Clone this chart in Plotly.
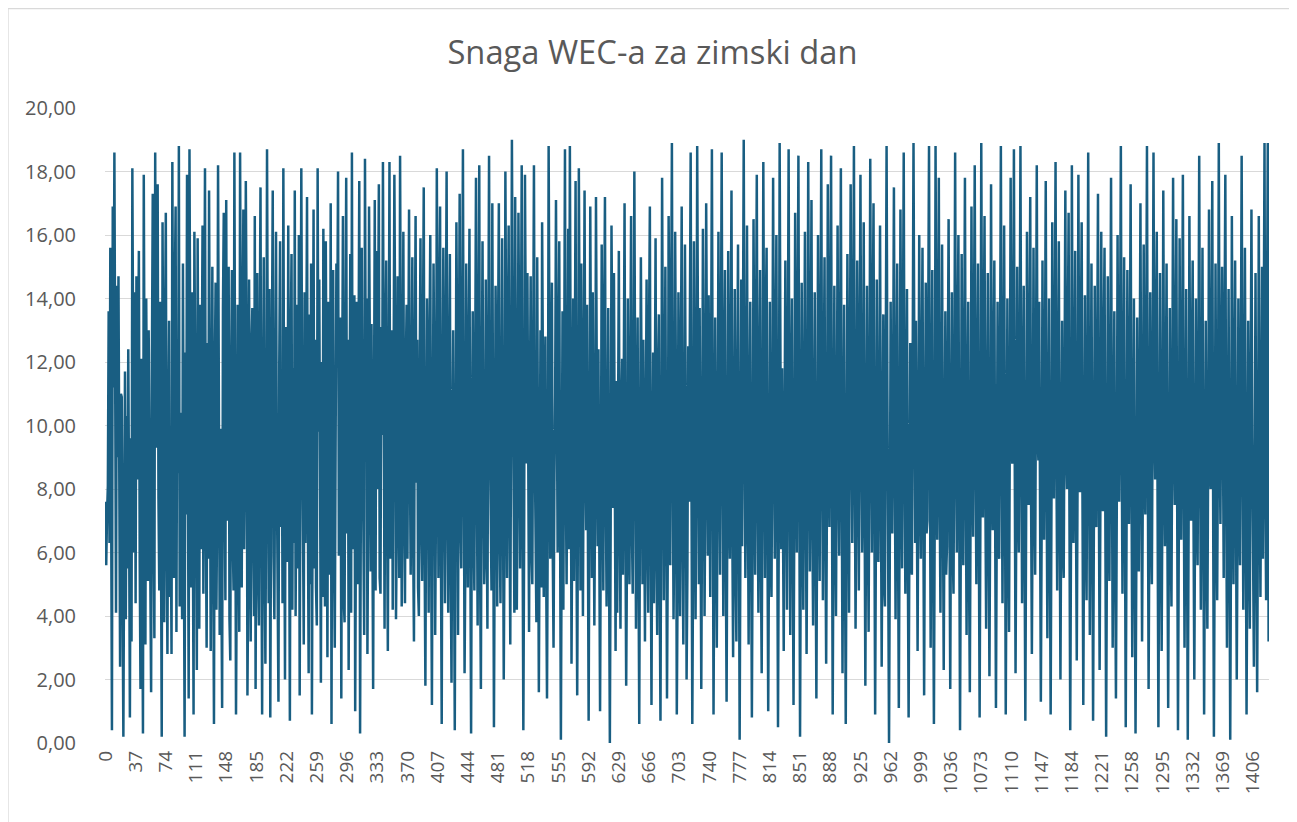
import plotly.graph_objects as go

title_text = "Snaga WEC-a za zimski dan"

# WEC power values, one row per 37 samples
power = [
    7.6, 5.6, 7.2, 8.1, 13.6, 6.3, 15.6, 4.9, 0.4, 16.9, 11.2, 18.6, 5.3, 4.1, 14.4, 9.0, 14.7, 3.6, 2.4, 11.0, 10.9, 4.8, 0.2, 6.7, 11.7, 3.9, 10.3, 5.5, 12.4, 7.4, 0.8, 9.6, 3.2, 18.1, 12.9, 6.0, 14.2,
    4.4, 14.7, 8.3, 11.8, 15.5, 5.9, 1.7, 12.1, 7.0, 0.3, 17.9, 6.2, 3.1, 14.0, 10.5, 5.1, 13.0, 8.7, 4.0, 1.6, 12.2, 17.3, 6.9, 3.3, 18.6, 9.3, 13.5, 17.6, 7.7, 4.8, 13.9, 5.4, 0.2, 16.4, 11.3, 3.8, 12.6,
    16.7, 6.4, 2.8, 9.8, 13.3, 4.6, 7.9, 2.8, 18.3, 11.0, 5.2, 14.1, 16.9, 3.5, 12.7, 8.5, 18.8, 4.3, 10.4, 6.7, 3.9, 15.1, 9.1, 0.2, 12.3, 7.2, 17.9, 5.6, 1.4, 18.7, 13.2, 4.9, 14.2, 8.0, 0.9, 16.1, 10.6,
    5.0, 2.3, 15.9, 8.4, 3.6, 13.8, 6.1, 11.3, 16.3, 4.7, 9.5, 18.1, 7.3, 3.0, 12.6, 5.8, 17.4, 10.0, 2.9, 8.9, 15.0, 6.4, 0.6, 11.6, 14.5, 4.2, 7.8, 18.2, 12.0, 3.4, 9.9, 5.7, 1.1, 13.7, 16.7, 8.2, 4.5,
    17.1, 7.0, 12.5, 15.0, 3.9, 2.6, 11.5, 14.9, 6.5, 4.8, 18.6, 9.4, 0.9, 5.7, 13.8, 8.0, 3.5, 18.6, 10.7, 4.9, 12.3, 16.8, 6.1, 9.0, 17.7, 13.0, 1.5, 5.3, 14.6, 7.8, 3.2, 12.4, 13.7, 6.6, 4.0, 16.6, 1.7,
    10.1, 14.8, 5.4, 3.7, 12.6, 17.5, 7.4, 0.9, 9.6, 15.3, 6.2, 2.5, 8.3, 18.7, 11.4, 4.4, 14.3, 0.8, 7.9, 12.9, 17.4, 5.9, 3.9, 10.5, 16.1, 8.6, 4.7, 1.3, 12.0, 15.8, 6.8, 11.1, 4.4, 18.1, 9.1, 2.0, 13.1,
    7.7, 5.7, 16.3, 8.9, 0.7, 12.4, 15.4, 4.2, 11.8, 6.3, 17.4, 4.0, 9.9, 13.8, 5.5, 16.0, 1.5, 8.1, 18.1, 10.9, 3.8, 3.1, 14.2, 6.3, 11.6, 17.2, 7.3, 2.2, 13.5, 5.0, 15.1, 0.9, 8.6, 16.8, 5.5, 12.7, 4.9,
    3.7, 18.1, 9.8, 14.6, 6.0, 1.9, 12.0, 4.6, 16.2, 8.4, 4.3, 15.8, 10.5, 2.7, 13.9, 7.1, 5.3, 17.0, 0.6, 11.9, 14.9, 6.2, 3.0, 9.4, 15.1, 12.6, 18.0, 5.9, 7.6, 13.4, 1.4, 10.8, 16.6, 4.5, 3.8, 12.1, 17.8,
    6.6, 12.7, 2.3, 8.7, 15.4, 4.1, 18.6, 6.1, 11.5, 14.1, 1.0, 7.3, 13.9, 5.0, 9.4, 17.7, 0.3, 6.9, 15.6, 10.3, 4.6, 3.4, 18.4, 11.1, 14.0, 2.8, 7.9, 16.9, 12.2, 5.4, 13.2, 6.0, 1.7, 10.1, 17.1, 4.8, 15.5,
    8.0, 11.4, 17.6, 5.2, 4.7, 13.1, 9.7, 18.3, 6.6, 3.6, 12.2, 15.2, 7.5, 2.9, 10.3, 18.3, 5.8, 8.6, 13.0, 4.2, 10.4, 17.9, 12.8, 3.9, 6.9, 14.7, 11.1, 5.2, 18.5, 12.3, 4.3, 9.6, 16.1, 7.7, 4.4, 11.8, 13.8,
    5.8, 12.8, 16.8, 9.0, 5.3, 10.5, 15.3, 6.4, 3.2, 11.8, 16.6, 8.2, 12.7, 4.9, 4.0, 11.4, 15.9, 7.0, 5.1, 12.8, 17.5, 6.3, 1.8, 8.9, 14.0, 10.7, 4.1, 12.2, 16.0, 6.4, 1.2, 9.3, 15.1, 11.0, 3.4, 7.7, 18.1,
    12.1, 5.2, 13.4, 16.9, 6.4, 0.6, 10.5, 15.6, 8.9, 4.4, 12.4, 18.0, 7.6, 4.1, 11.3, 15.4, 5.8, 1.9, 9.2, 13.0, 6.7, 0.4, 8.6, 16.4, 12.0, 3.4, 11.3, 17.3, 7.0, 5.5, 12.6, 18.7, 9.4, 2.2, 6.0, 15.1, 10.2,
    4.9, 11.5, 16.2, 6.7, 0.3, 8.9, 13.6, 7.1, 4.8, 11.8, 17.8, 8.9, 3.7, 12.2, 18.2, 5.6, 1.7, 10.5, 15.8, 9.0, 5.0, 6.1, 14.6, 7.7, 3.6, 11.7, 18.5, 10.0, 6.1, 4.8, 17.0, 8.5, 0.5, 7.2, 14.4, 11.2, 4.3,
    12.6, 17.0, 6.6, 4.4, 9.9, 15.9, 8.0, 2.0, 6.8, 18.0, 12.2, 5.2, 11.6, 16.3, 7.8, 3.1, 10.4, 19.0, 13.1, 6.3, 4.1, 17.2, 9.4, 4.2, 8.5, 16.7, 12.0, 5.5, 11.9, 18.2, 7.4, 0.4, 6.6, 17.9, 12.6, 8.8, 14.8,
    7.7, 3.5, 10.6, 14.7, 6.1, 5.0, 11.7, 18.2, 9.3, 5.9, 3.8, 15.3, 8.1, 1.6, 7.3, 13.0, 4.9, 16.4, 11.7, 4.6, 9.8, 12.8, 5.4, 1.4, 7.5, 18.8, 12.4, 5.8, 10.5, 14.5, 6.2, 3.0, 8.1, 11.0, 17.1, 9.6, 6.0,
    11.1, 15.8, 7.0, 0.1, 6.9, 13.6, 4.2, 14.9, 18.7, 8.5, 5.0, 10.6, 16.2, 6.1, 18.8, 11.4, 2.5, 7.7, 14.0, 5.1, 11.8, 17.7, 6.9, 1.5, 8.0, 18.1, 12.3, 4.8, 15.1, 7.5, 4.0, 10.7, 17.4, 9.0, 6.7, 13.8, 3.4,
    0.7, 8.1, 16.9, 10.5, 5.2, 14.2, 7.1, 3.7, 8.2, 17.2, 11.3, 6.2, 12.4, 5.6, 1.0, 7.6, 15.7, 9.9, 4.8, 13.2, 17.2, 8.0, 4.3, 7.9, 13.7, 5.8, 0.0, 7.0, 16.3, 11.9, 7.4, 14.8, 6.1, 2.9, 11.4, 4.1, 9.9,
    15.5, 7.4, 3.6, 10.5, 12.1, 5.3, 12.2, 17.0, 7.2, 1.8, 6.1, 14.0, 8.5, 5.0, 11.2, 16.6, 6.8, 4.7, 9.9, 18.0, 10.8, 3.6, 7.8, 13.4, 6.2, 0.6, 8.5, 15.3, 10.3, 5.0, 12.7, 7.7, 3.2, 9.9, 14.6, 6.5, 4.1,
    13.0, 16.9, 7.0, 1.2, 8.5, 12.3, 4.4, 10.4, 15.9, 6.1, 3.4, 11.6, 13.5, 5.3, 0.7, 8.7, 17.8, 11.2, 4.5, 9.2, 15.0, 7.6, 1.4, 6.2, 16.6, 12.2, 5.6, 13.0, 18.9, 9.5, 3.9, 7.0, 16.1, 10.8, 0.9, 5.1, 14.2,
    9.5, 4.0, 12.0, 16.9, 6.8, 3.1, 8.3, 15.7, 9.9, 2.0, 5.4, 12.5, 7.6, 14.6, 18.6, 8.1, 0.6, 6.0, 15.8, 10.5, 3.9, 9.0, 18.8, 12.4, 5.0, 13.7, 6.4, 1.7, 7.8, 16.2, 11.0, 4.0, 8.3, 17.0, 11.7, 5.9, 14.1,
    7.6, 4.6, 11.8, 18.7, 10.2, 0.9, 6.6, 13.4, 7.8, 3.0, 8.8, 16.1, 10.1, 5.3, 12.2, 18.6, 9.9, 4.0, 11.2, 14.9, 6.2, 1.3, 8.0, 15.5, 7.7, 5.8, 12.3, 17.4, 6.8, 2.7, 9.3, 14.3, 5.5, 3.2, 11.0, 15.7, 8.2,
    0.1, 7.0, 14.6, 6.2, 12.4, 19.0, 10.2, 5.2, 8.2, 16.3, 8.7, 3.1, 9.4, 13.9, 6.9, 0.8, 7.3, 16.5, 10.4, 5.3, 12.3, 17.9, 8.3, 4.1, 10.6, 14.9, 6.0, 2.2, 9.0, 18.3, 11.0, 5.2, 13.4, 15.6, 7.0, 1.0, 6.5,
    13.9, 6.3, 4.6, 9.9, 17.8, 10.5, 5.8, 12.0, 16.0, 7.5, 0.5, 7.2, 18.9, 12.0, 6.1, 11.8, 5.6, 2.9, 9.6, 15.2, 8.2, 4.2, 11.7, 18.7, 8.9, 3.4, 10.5, 14.0, 6.7, 1.2, 7.6, 16.7, 10.6, 6.0, 12.5, 18.5, 9.0,
    0.2, 6.9, 14.5, 7.7, 4.2, 10.7, 16.1, 8.1, 2.8, 8.4, 18.3, 11.4, 5.4, 11.6, 17.1, 7.3, 3.7, 9.0, 14.2, 6.6, 1.4, 7.5, 16.0, 10.1, 5.1, 12.1, 18.7, 9.2, 4.5, 10.8, 15.3, 7.0, 2.5, 8.0, 17.6, 10.5, 6.8,
    13.1, 18.5, 9.0, 0.9, 7.4, 14.4, 7.6, 4.0, 9.5, 16.3, 9.1, 5.9, 11.8, 18.1, 8.7, 2.2, 8.1, 13.8, 6.1, 0.6, 7.4, 15.4, 9.9, 4.1, 11.3, 17.6, 10.8, 6.3, 12.5, 18.8, 9.0, 3.6, 8.6, 15.2, 9.9, 4.8, 11.8,
    17.9, 10.0, 6.0, 8.5, 16.4, 8.2, 1.8, 7.9, 14.4, 7.3, 3.5, 10.3, 18.4, 11.3, 6.0, 12.8, 17.0, 7.8, 0.9, 7.0, 14.6, 6.4, 5.7, 10.2, 16.3, 8.6, 2.4, 7.8, 13.5, 5.0, 4.3, 12.0, 18.8, 11.1, 5.0, 0.0, 6.4,
    13.9, 7.3, 6.6, 11.4, 17.5, 9.5, 3.9, 9.9, 15.1, 6.7, 1.1, 7.4, 16.8, 10.8, 5.5, 12.3, 18.6, 9.3, 4.7, 10.2, 14.3, 6.0, 0.8, 6.8, 12.6, 5.8, 5.3, 12.1, 18.9, 11.9, 6.3, 13.3, 7.5, 2.9, 9.1, 16.0, 8.0,
    5.8, 11.6, 15.6, 7.5, 1.5, 8.5, 14.5, 6.6, 7.0, 13.2, 18.8, 9.6, 3.0, 9.5, 14.9, 6.0, 0.6, 7.3, 18.8, 12.1, 6.4, 11.1, 17.8, 8.1, 4.1, 10.2, 15.7, 7.9, 2.3, 8.1, 13.6, 5.3, 6.2, 11.7, 16.5, 7.6, 1.7,
    8.6, 14.2, 6.2, 4.7, 10.9, 18.6, 9.8, 6.0, 12.4, 16.0, 7.4, 0.4, 6.9, 15.4, 8.7, 5.6, 11.5, 17.8, 8.8, 3.4, 9.8, 13.9, 5.4, 1.6, 8.1, 16.9, 10.1, 6.5, 12.6, 18.2, 9.4, 5.0, 10.4, 15.1, 6.8, 0.8, 7.7,
    18.9, 11.6, 7.1, 12.0, 16.6, 8.0, 3.6, 9.0, 14.8, 7.3, 2.1, 7.8, 17.6, 9.6, 6.7, 11.3, 15.2, 7.2, 1.1, 7.1, 13.9, 6.4, 5.8, 11.7, 18.8, 10.3, 4.4, 9.8, 16.3, 8.8, 0.9, 6.7, 14.0, 7.3, 3.5, 10.0, 17.8,
    9.9, 8.8, 12.6, 18.7, 9.0, 2.2, 7.7, 15.0, 8.0, 6.0, 11.5, 18.8, 10.0, 4.4, 9.6, 14.4, 6.5, 0.7, 7.3, 16.1, 9.1, 7.5, 12.4, 17.2, 7.9, 2.8, 8.3, 15.6, 8.5, 5.3, 11.2, 18.2, 9.7, 8.9, 13.9, 7.0, 1.3,
    7.0, 15.2, 8.3, 6.4, 11.8, 17.7, 8.7, 3.3, 8.5, 14.0, 6.8, 0.9, 7.5, 16.4, 9.4, 7.7, 12.2, 18.3, 9.3, 4.8, 10.2, 15.8, 7.8, 2.0, 7.8, 13.3, 6.2, 5.2, 11.1, 17.4, 9.2, 8.0, 12.5, 16.7, 7.5, 0.4, 6.9,
    18.2, 10.4, 6.3, 10.3, 15.5, 7.5, 2.6, 8.4, 17.9, 9.8, 7.9, 12.6, 16.4, 7.7, 1.2, 7.3, 14.1, 7.0, 4.5, 10.8, 18.6, 9.7, 3.4, 8.5, 15.1, 8.0, 0.7, 7.1, 14.4, 7.6, 6.8, 12.1, 17.3, 8.4, 2.3, 7.9, 16.1,
    9.0, 7.3, 12.4, 15.6, 7.1, 0.2, 6.6, 14.7, 7.8, 5.1, 11.2, 17.8, 9.4, 3.0, 8.2, 13.6, 6.1, 1.4, 7.4, 16.0, 9.2, 7.6, 12.3, 18.8, 9.8, 4.7, 10.2, 15.3, 7.5, 0.5, 6.8, 14.9, 8.2, 6.9, 11.6, 17.6, 8.6,
    2.7, 7.8, 14.0, 6.7, 0.3, 5.9, 13.4, 6.6, 5.4, 11.0, 17.0, 9.0, 3.2, 8.6, 15.7, 8.4, 7.2, 12.0, 18.8, 9.3, 1.7, 7.2, 14.2, 7.5, 5.0, 10.9, 18.6, 10.3, 8.3, 12.6, 16.1, 7.5, 0.5, 7.0, 14.8, 7.8, 2.9,
    8.5, 17.4, 9.6, 6.2, 10.2, 15.1, 7.0, 1.1, 7.4, 13.7, 6.7, 4.3, 10.6, 17.8, 9.8, 7.5, 12.2, 16.5, 7.7, 0.4, 6.5, 15.9, 9.0, 6.4, 11.6, 17.9, 9.0, 3.0, 8.2, 14.3, 7.1, 0.1, 6.8, 16.6, 9.9, 7.0, 11.9,
    15.2, 7.2, 2.0, 7.7, 14.0, 7.5, 5.6, 11.1, 18.5, 9.8, 4.2, 8.9, 15.6, 7.9, 0.9, 7.0, 13.3, 6.4, 3.6, 9.3, 16.8, 8.8, 8.0, 12.1, 17.7, 8.0, 0.2, 6.7, 15.1, 7.8, 4.5, 9.6, 18.9, 10.0, 6.9, 11.4, 15.0,
    10.3, 5.2, 12.9, 17.9, 8.5, 3.0, 7.6, 14.3, 7.1, 0.1, 6.8, 16.6, 9.9, 5.0, 10.9, 15.2, 7.7, 2.0, 7.1, 14.0, 7.5, 5.6, 11.5, 18.5, 10.6, 4.2, 8.3, 15.6, 7.9, 0.9, 6.4, 13.3, 7.0, 3.6, 10.7, 16.8, 9.6,
    7.1, 2.4, 8.4, 14.8, 6.6, 1.6, 7.6, 16.6, 8.7, 4.6, 9.4, 15.0, 5.8, 12.3, 18.9, 8.1, 4.5, 13.1, 18.9, 3.2,
]

# category axis labels shown (every 37th sample)
x_tick_values = [0, 37, 74, 111, 148, 185, 222, 259, 296, 333, 370, 407, 444, 481, 518, 555, 592, 629,
                 666, 703, 740, 777, 814, 851, 888, 925, 962, 999, 1036, 1073, 1110, 1147, 1184, 1221,
                 1258, 1295, 1332, 1369, 1406]
x_tick_labels = [str(v) for v in x_tick_values]

y_tick_values = [0, 2, 4, 6, 8, 10, 12, 14, 16, 18, 20]

samples = list(range(len(power)))

# the page body adds an 8px margin, so the figure is 8px smaller than the window on each side
W, H = 1289, 814
L, R, T, B = 97, 28, 100, 79
plot_w = W - L - R
plot_h = H - T - B
FONT = "Open Sans, Lato, sans-serif"
GREY = "#595959"

fig = go.Figure()
fig.add_trace(go.Scatter(
    x=samples, y=power, mode="lines",
    line=dict(color="#195e82", width=2.5),
    hoverinfo="skip", showlegend=False,
))


def px_to_paper_x(px):
    return (px - L) / plot_w


def px_to_paper_y(py):
    return (H - B - py) / plot_h


fig.update_layout(
    width=W, height=H,
    margin=dict(l=L, r=R, t=T, b=B, autoexpand=False),
    paper_bgcolor="white", plot_bgcolor="white",
    separators=", ",
    font=dict(family=FONT, color=GREY, size=18),
    title=dict(text=title_text, x=0.5, xref="container", xanchor="center",
               y=1 - 45 / H, yref="container", yanchor="middle",
               font=dict(size=32.7, color=GREY, family=FONT)),
    xaxis=dict(range=[-0.5, len(power) - 0.5], tickmode="array",
               tickvals=x_tick_values, ticktext=x_tick_labels, tickangle=-90,
               showgrid=False, zeroline=False, showline=False, ticks="",
               ticklabelstandoff=3,
               tickfont=dict(size=19, color=GREY, family=FONT)),
    yaxis=dict(range=[0, 20], tickmode="array", tickvals=y_tick_values, tickformat=".2f",
               showgrid=True, gridcolor="#d9d9d9", gridwidth=1.3,
               zeroline=False, showline=False, ticks="", ticklabelstandoff=28,
               tickfont=dict(size=20, color=GREY, family=FONT)),
    shapes=[dict(type="rect", xref="paper", yref="paper",
                 x0=px_to_paper_x(0), x1=px_to_paper_x(W + 3),
                 y0=px_to_paper_y(H + 3), y1=px_to_paper_y(0.5),
                 line=dict(color="#d9d9d9", width=1.3), fillcolor="rgba(0,0,0,0)", layer="below")],
)

fig.write_html("out.html")
